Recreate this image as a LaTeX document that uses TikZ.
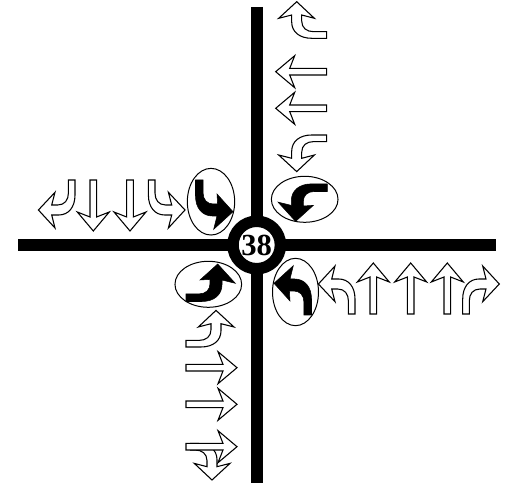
\documentclass[tikz,border=0pt]{standalone}
\usepackage{fontspec}
\setmainfont{Liberation Serif}
\usetikzlibrary{shapes.geometric}
\begin{document}
\begin{tikzpicture}[
    x=0.75pt, y=0.75pt,
    road/.style={line width=9pt},
    junction/.style={circle, draw, fill=white, line width=8.6pt, minimum size=35.6pt, inner sep=0pt,
                     font=\fontsize{23}{23}\selectfont\bfseries},
    lane/.style={ellipse, draw, line width=0.75pt, inner sep=0pt},
    hollow/.style={draw, fill=white, line width=0.8pt, line join=miter},
    solid/.style={draw, fill=black, line width=0.4pt},
    pics/through/.style={code={
        \path[hollow] (-3.3,0) -- (-3.3,37) -- (-16,32) -- (0,51) -- (16,32) -- (3.3,37) -- (3.3,0) -- cycle;
    }},
    pics/turn/.style={code={
        \path[hollow] (-3.3,0) -- (-3.3,13) .. controls (-3.3,20) and (-7,25) .. (-14,25) -- (-20,25)
            -- (-16.7,12.3) -- (-33.3,30) -- (-16.7,48) -- (-20,35) -- (-13,35)
            .. controls (-3,35) and (3.3,27) .. (3.3,15) -- (3.3,0) -- cycle;
    }},
    pics/turnsolid/.style={code={
        \path[solid] (-3.8,0) -- (-3.8,13) .. controls (-3.8,20) and (-8,24) .. (-14,24) -- (-18.3,24)
            -- (-17.7,14) -- (-33.7,31.7) -- (-14.4,49.3) -- (-17.7,36) -- (-13,36)
            .. controls (-3,36) and (3.8,28) .. (3.8,16) -- (3.8,0) -- cycle;
    }},
]
\useasboundingbox (0,0) rectangle (508,486);
% === Roads and the numbered junction ===
\coordinate (roadN) at (256.7,479);
\coordinate (roadS) at (256.7,3);
\coordinate (roadW) at (18,241);
\coordinate (roadE) at (496,241);
\draw[road] (roadN) -- (roadS);
\draw[road] (roadW) -- (roadE);
\node[junction] (node38) at (256.7,241) {38};
% === Circled turning lanes ===
\node[lane, minimum width=50pt, minimum height=34.5pt] (laneNE) at (304.7,286.7) {};
\node[lane, minimum width=35.5pt, minimum height=50pt] (laneNW) at (211,284.3) {};
\node[lane, minimum width=50pt, minimum height=34.5pt] (laneSW) at (208.3,201.7) {};
\node[lane, minimum width=34.5pt, minimum height=50.5pt] (laneSE) at (295.5,194) {};
\pic[rotate=90] at (327.3,298.3) {turnsolid};
\pic[rotate=180] at (199.3,306) {turnsolid};
\pic[rotate=-90] at (186,188.3) {turnsolid};
\pic at (307.7,171) {turnsolid};
% === East approach ===
\pic at (351.7,172) {turn};
\pic at (373.3,172) {through};
\pic at (410.7,172) {through};
\pic at (447.3,172) {through};
\pic[xscale=-1] at (466,172) {turn};
% === North approach ===
\pic[rotate=90, xscale=-1] at (326.7,451) {turn};
\pic[rotate=90] at (326.7,414.3) {through};
\pic[rotate=90] at (326.7,377.7) {through};
\pic[rotate=90] at (326.7,347.7) {turn};
% === West approach ===
\pic[rotate=180, xscale=-1] at (71.7,306) {turn};
\pic[rotate=180] at (93.3,306) {through};
\pic[rotate=180] at (130,306) {through};
\pic[rotate=180] at (151.7,306) {turn};
% === South approach ===
\pic[rotate=-90] at (186,142.3) {turn};
\pic[rotate=-90] at (186,118.3) {through};
\pic[rotate=-90] at (186,81.7) {through};
\begin{scope}
\clip (190,0) rectangle (240,60);
\pic[rotate=-90, xscale=-1] at (182,39.3) {turn};
\end{scope}
\pic[rotate=-90] at (186,39.3) {through};
\end{tikzpicture}
\end{document}
